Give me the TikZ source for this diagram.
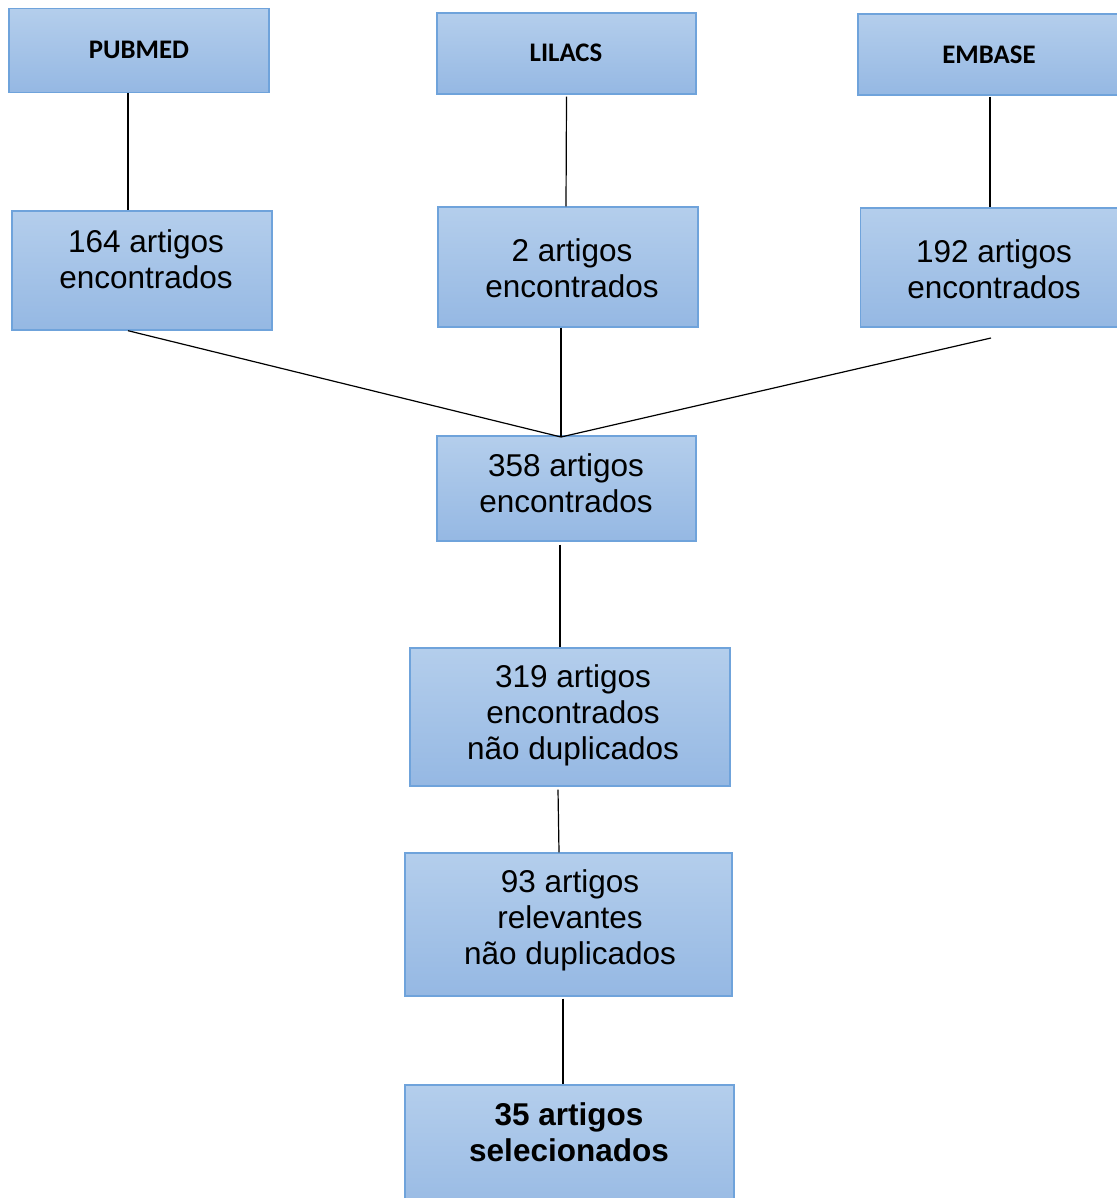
\documentclass[tikz,border=0pt]{standalone}
\usepackage{fontspec}
\setmainfont{Liberation Sans}
\newfontfamily\headfont{Carlito}
\begin{document}
\begin{tikzpicture}[x=0.5pt,y=-0.5pt,
  box/.style={draw=boxline, line width=0.7pt, top color=boxtop, bottom color=boxbot, shading angle=0, inner sep=0pt},
  txt/.style={align=center, font=\fontsize{15.75pt}{18pt}\selectfont, inner sep=0pt},
  head/.style={font=\headfont\bfseries\fontsize{13.4pt}{15pt}\selectfont, inner sep=0pt},
  conn/.style={line width=0.6pt, black}]
\definecolor{boxtop}{HTML}{B4CEEC}
\definecolor{boxbot}{HTML}{95B8E3}
\definecolor{boxline}{HTML}{6FA3DB}
\useasboundingbox (0,0) rectangle (1117,1198);
\clip (0,0) rectangle (1117,1198);
\fill[white] (0,0) rectangle (1117,1198);
% boxes
\node[box, minimum width=130pt, minimum height=42pt] (pub) at (139,50.5) {};
\node[box, minimum width=129.5pt, minimum height=40.5pt] (lil) at (566.5,53.5) {};
\node[box, minimum width=130pt, minimum height=40.5pt] (emb) at (988,54.5) {};
\node[box, minimum width=130pt, minimum height=59.5pt] (b164) at (142,270.5) {};
\node[box, minimum width=130pt, minimum height=60pt] (b2) at (568,267) {};
\node[box, minimum width=129pt, minimum height=59.5pt] (b192) at (989.5,267.5) {};
\node[box, minimum width=129.5pt, minimum height=52.5pt] (b358) at (566.5,488.5) {};
\node[box, minimum width=160pt, minimum height=69pt] (b319) at (570,717) {};
\node[box, minimum width=163.5pt, minimum height=71.5pt] (b93) at (568.5,924.5) {};
\node[box, minimum width=164.5pt, minimum height=70pt] (b35) at (569.5,1155) {};
% texts
\node[head] (tpub) at (139,50) {PUBMED};
\node[head] (tlil) at (566,53) {LILACS};
\node[head] (temb) at (989,55) {EMBASE};
\node[txt] (t164) at (146,259) {164 artigos\\encontrados};
\node[txt] (t2) at (572,268) {2 artigos\\encontrados};
\node[txt] (t192) at (994,269) {192 artigos\\encontrados};
\node[txt] (t358) at (566,483) {358 artigos\\encontrados};
\node[txt] (t319) at (573,715) {319 artigos\\encontrados\\não duplicados};
\node[txt] (t93) at (570,920) {93 artigos\\relevantes\\não duplicados};
\node[txt, font=\bfseries\fontsize{15.75pt}{18pt}\selectfont] (t35) at (569,1132) {35 artigos\\selecionados};
% connector points
\coordinate (m) at (561,437);
\coordinate (e192) at (991,338);
% connectors
\draw[conn] ([xshift=-5.5pt]pub.south) -- ([xshift=-7pt]b164.north);
\draw[conn] ([yshift=-1pt]lil.south) -- ([xshift=-1pt]b2.north);
\draw[conn] ([xshift=1pt,yshift=-0.5pt]emb.south) -- ([xshift=0.25pt]b192.north);
\draw[conn] ([xshift=-7pt]b164.south) -- (m);
\draw[conn] ([xshift=-3.5pt]b2.south) -- (m);
\draw[conn] (e192) -- (m);
\draw[conn] ([xshift=-3.25pt,yshift=-1.5pt]b358.south) -- ([xshift=-5pt]b319.north);
\draw[conn] ([xshift=-6pt,yshift=-1.5pt]b319.south) -- ([xshift=-4.75pt]b93.north);
\draw[conn] ([xshift=-2.75pt,yshift=-1pt]b93.south) -- ([xshift=-3.25pt]b35.north);
\end{tikzpicture}
\end{document}
